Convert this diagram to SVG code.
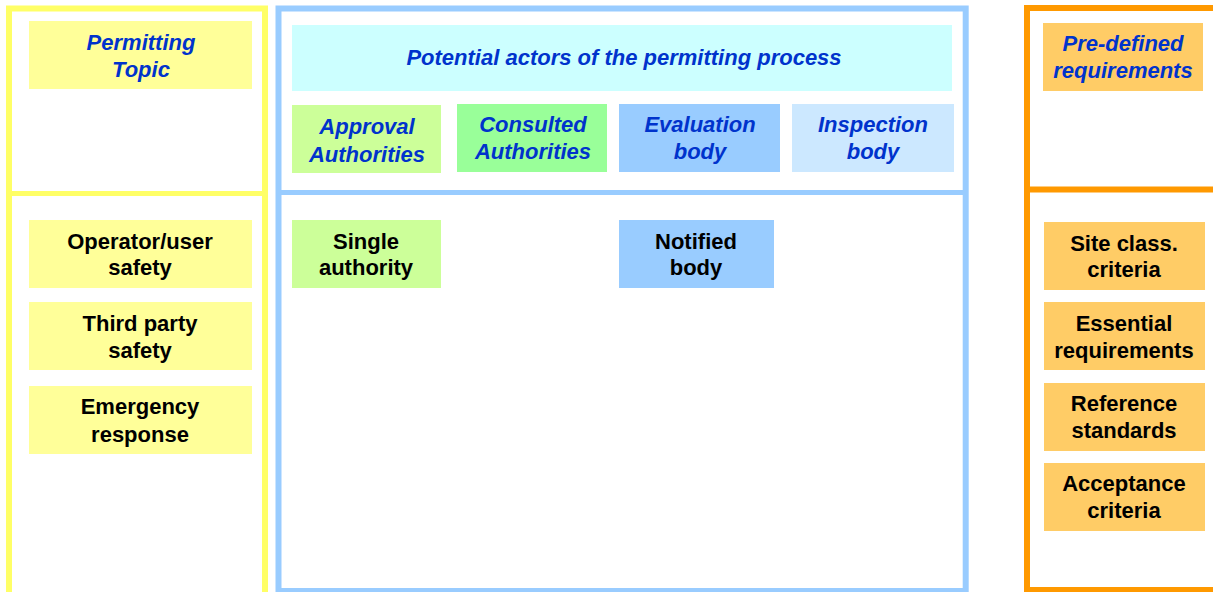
<svg xmlns="http://www.w3.org/2000/svg" width="1213" height="592" viewBox="0 0 1213 592">
<style>
.frame{fill:none;stroke-width:6}
.t{font-family:"Liberation Sans",Arial,sans-serif;font-size:22px;font-weight:bold;text-anchor:middle}
.h{fill:#0033CC;font-style:italic}
.b{fill:#000}
.yel{fill:#FFFF99}
.grn{fill:#CCFF99}
.grn2{fill:#99FF99}
.blu{fill:#99CCFF}
.lblu{fill:#CCE8FF}
.cyan{fill:#CCFFFF}
.org{fill:#FFCC66}
</style>
<rect width="1213" height="592" fill="#fff"/>
<g id="frames">
<rect class="frame" x="9" y="8.5" width="256" height="600" stroke="#FFFF66"/>
<line x1="9" y1="193.5" x2="265" y2="193.5" stroke="#FFFF66" stroke-width="5"/>
<rect class="frame" x="278.5" y="8.5" width="687.2" height="582.5" stroke="#99CCFF"/>
<line x1="278.5" y1="192.5" x2="965.7" y2="192.5" stroke="#99CCFF" stroke-width="5"/>
<rect class="frame" x="1027" y="8" width="300" height="582" stroke="#FF9900"/>
<line x1="1027" y1="189.5" x2="1213" y2="189.5" stroke="#FF9900" stroke-width="6"/>
</g>
<g id="permitting-topic"><rect class="yel" x="29" y="21" width="223" height="68"/><text class="t h" x="141" y="50">Permitting</text><text class="t h" x="141" y="77">Topic</text></g>
<g id="operator-safety"><rect class="yel" x="29" y="220" width="223" height="68"/><text class="t b" x="140" y="249">Operator/user</text><text class="t b" x="140" y="275">safety</text></g>
<g id="third-party"><rect class="yel" x="29" y="302" width="223" height="68"/><text class="t b" x="140" y="331">Third party</text><text class="t b" x="140" y="358">safety</text></g>
<g id="emergency"><rect class="yel" x="29" y="386" width="223" height="68"/><text class="t b" x="140" y="414">Emergency</text><text class="t b" x="140" y="442">response</text></g>
<g id="actors-title"><rect class="cyan" x="292" y="25" width="660" height="66"/><text class="t h" x="624" y="65">Potential actors of the permitting process</text></g>
<g id="approval"><rect class="grn" x="292" y="105" width="149" height="68"/><text class="t h" x="367" y="134">Approval</text><text class="t h" x="367" y="162">Authorities</text></g>
<g id="consulted"><rect class="grn2" x="457" y="104" width="150" height="68"/><text class="t h" x="533" y="132">Consulted</text><text class="t h" x="533" y="159">Authorities</text></g>
<g id="evaluation"><rect class="blu" x="619" y="104" width="161" height="68"/><text class="t h" x="700" y="132">Evaluation</text><text class="t h" x="700" y="159">body</text></g>
<g id="inspection"><rect class="lblu" x="792" y="104" width="162" height="68"/><text class="t h" x="873" y="132">Inspection</text><text class="t h" x="873" y="159">body</text></g>
<g id="single-authority"><rect class="grn" x="292" y="220" width="149" height="68"/><text class="t b" x="366" y="249">Single</text><text class="t b" x="366" y="275">authority</text></g>
<g id="notified-body"><rect class="blu" x="619" y="220" width="155" height="68"/><text class="t b" x="696" y="249">Notified</text><text class="t b" x="696" y="275">body</text></g>
<g id="predefined"><rect class="org" x="1043" y="23" width="160" height="68"/><text class="t h" x="1123" y="51">Pre-defined</text><text class="t h" x="1123" y="78">requirements</text></g>
<g id="site-class"><rect class="org" x="1044" y="222" width="161" height="68"/><text class="t b" x="1124" y="251">Site class.</text><text class="t b" x="1124" y="277">criteria</text></g>
<g id="essential"><rect class="org" x="1044" y="302" width="161" height="68"/><text class="t b" x="1124" y="331">Essential</text><text class="t b" x="1124" y="358">requirements</text></g>
<g id="reference"><rect class="org" x="1044" y="383" width="161" height="68"/><text class="t b" x="1124" y="411">Reference</text><text class="t b" x="1124" y="438">standards</text></g>
<g id="acceptance"><rect class="org" x="1044" y="463" width="161" height="68"/><text class="t b" x="1124" y="491">Acceptance</text><text class="t b" x="1124" y="518">criteria</text></g>
<g id="connectors"></g>
</svg>
